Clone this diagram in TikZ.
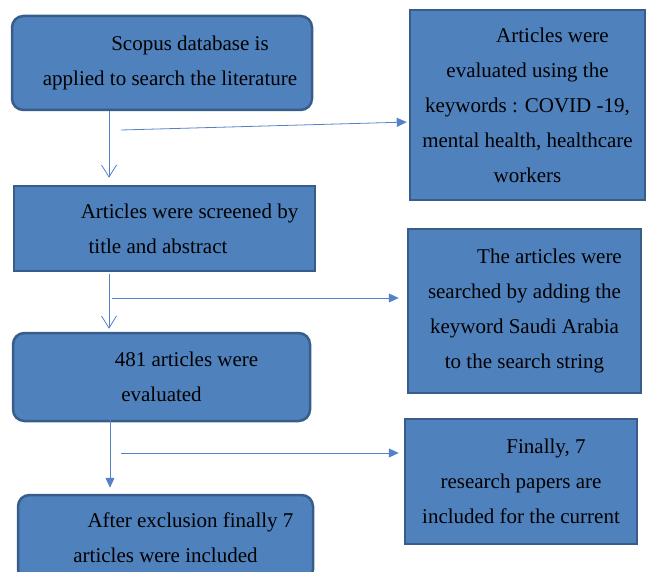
\documentclass[tikz,border=0pt]{standalone}
\usepackage{fontspec}
\setmainfont{Liberation Serif}
\usetikzlibrary{positioning, arrows.meta}
\definecolor{boxfill}{RGB}{79,129,189}
\definecolor{boxline}{RGB}{56,93,138}
\definecolor{arrowcol}{RGB}{84,130,200}
\newcommand{\ind}{\hspace*{50pt}}
\tikzset{
  box1/.style = {
    shape = rectangle,
    draw = boxline,
    fill = boxfill,
    line width = 2.5pt,
    rounded corners = 4mm,
    align = center,
    inner sep = 0pt,
    font = \fontsize{21}{35}\selectfont,
  }
}
\tikzset{
  box2/.style = {
    box1,
    rounded corners = 0mm,
  }
}
\tikzset{
  arrow1/.style = {
    draw = arrowcol, line width = 0.8pt, -{Straight Barb[length = 12pt, width = 15pt]},
  }
}
\tikzset{
  arrow2/.style = {
    draw = arrowcol, line width = 0.8pt, -{Triangle[length = 10pt, width = 9pt]},
  }
}

\begin{document}
\begin{tikzpicture}[x = 1pt, y = -1pt]
        \useasboundingbox (0,0) rectangle (647,572);
        \clip (0,0) rectangle (647,572);
        \node[box1, minimum width = 300pt, minimum height = 94pt] (1) at (162,63)
          {\hspace*{56pt}Scopus database is\\\hspace*{16pt}applied to search the literature};
        \node[box2, minimum width = 301pt, minimum height = 85pt] (2) at (164.5,228.5)
          {\ind Articles were screened by\\title and abstract\hspace*{13pt}};
        \node[box1, minimum width = 297pt, minimum height = 88pt] (3) at (161.5,377)
          {\ind 481 articles were\\evaluated};
        \node[box1, minimum width = 295pt, minimum height = 86pt] (4) at (165.5,538)
          {\ind After exclusion finally 7\\articles were included};
        \node[box2, minimum width = 235pt, minimum height = 190pt] (5) at (527.5,105)
          {\ind Articles were\\evaluated using the\\keywords : COVID -19,\\mental health, healthcare\\workers};
        \node[box2, minimum width = 233pt, minimum height = 164pt] (6) at (524.5,311)
          {\ind The articles were\\searched by adding the\\keyword Saudi Arabia\\to the search string};
        \node[box2, minimum width = 232pt, minimum height = 125pt] (7) at (521,481.5)
          {\ind Finally, 7\\research papers are\\included for the current};
        \coordinate (v1) at (109,0);
        \coordinate (v3) at (110,0);
        \coordinate (h1) at (121,130);
        \coordinate (h2) at (112,298);
        \coordinate (h3) at (121,453);
        \draw[arrow1, shorten >= 7pt] (1.south -| v1) -- (2.north -| v1);
        \draw[arrow1, shorten <= 2pt, shorten >= 3pt] (2.south -| v1) -- (3.north -| v1);
        \draw[arrow2, shorten >= 6pt] ([yshift = 9pt]3.south -| v3) -- (4.north -| v3);
        \draw[arrow2, shorten >= 2pt] (h1) -- ([yshift = -17pt]5.west);
        \draw[arrow2, shorten >= 8pt] (h2) -- (h2 -| 6.west);
        \draw[arrow2, shorten >= 5pt] (h3) -- (h3 -| 7.west);
    \end{tikzpicture}
\end{document}
